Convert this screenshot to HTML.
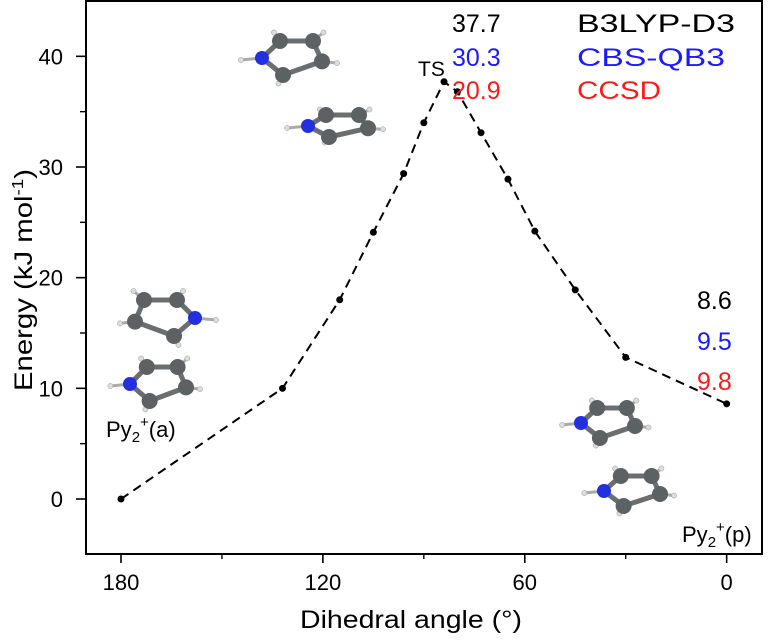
<!DOCTYPE html>
<html><head><meta charset="utf-8"><style>
body{margin:0;background:#fff;}
svg text{font-family:"Liberation Sans",Arial,sans-serif;}
</style></head><body>
<svg id="chart" width="776" height="637" viewBox="0 0 776 637" xmlns="http://www.w3.org/2000/svg">
<g id="mols"></g>
<g id="axes"></g>
<g id="series"></g>
<g id="labels">
<text x="418" y="76" font-size="21">TS</text>
<text x="452" y="32" font-size="25" fill="#000">37.7</text>
<text x="452" y="66" font-size="25" fill="#1a1aff">30.3</text>
<text x="452" y="99" font-size="25" fill="#ff1a1a">20.9</text>
<text x="577" y="32" font-size="25" textLength="158" lengthAdjust="spacingAndGlyphs" fill="#000">B3LYP-D3</text>
<text x="577" y="66" font-size="25" textLength="148" lengthAdjust="spacingAndGlyphs" fill="#1a1aff">CBS-QB3</text>
<text x="577" y="99" font-size="25" textLength="84" lengthAdjust="spacingAndGlyphs" fill="#ff1a1a">CCSD</text>
<text x="697" y="309" font-size="25" fill="#000">8.6</text>
<text x="697" y="350" font-size="25" fill="#1a1aff">9.5</text>
<text x="697" y="390" font-size="25" fill="#ff1a1a">9.8</text>
<text x="106" y="437" font-size="22">Py<tspan font-size="15" dy="5">2</tspan><tspan font-size="15" dy="-15">+</tspan><tspan dy="10">(a)</tspan></text>
<text x="682" y="542" font-size="22">Py<tspan font-size="15" dy="5">2</tspan><tspan font-size="15" dy="-15">+</tspan><tspan dy="10">(p)</tspan></text>
<text x="300" y="628" font-size="25" textLength="222" lengthAdjust="spacingAndGlyphs">Dihedral angle (°)</text>
<text transform="translate(32,391) rotate(-90)" font-size="25" textLength="222" lengthAdjust="spacingAndGlyphs">Energy (kJ mol<tspan font-size="16" dy="-9">-1</tspan><tspan dy="9">)</tspan></text>
</g>
</svg>
<script>
const angles=[180,132,115,105,96,90,84,80,73,65,57,45,30,0];
const energies=[0,10.0,18.0,24.1,29.4,34.0,37.7,36.8,33.1,28.9,24.2,18.9,12.8,8.6];
const xTicks=[180,120,60,0];
const xMinor=[150,90,30];
const yTicks=[0,10,20,30,40];
const yMinor=[5,15,25,35];
const NS='http://www.w3.org/2000/svg';
const L=86,R=762,T=1,B=554;
const X0=190.4,X1=-10.5,Y0=-4.97,Y1=45.0;
function sx(a){return L+(a-X0)/(X1-X0)*(R-L);}
function sy(v){return B-(v-Y0)/(Y1-Y0)*(B-T);}
function mk(tag,attrs,parent){const e=document.createElementNS(NS,tag);for(const k in attrs)e.setAttribute(k,attrs[k]);parent.appendChild(e);return e;}
const axes=document.getElementById('axes');
const frame=mk('rect',{x:L,y:T,width:R-L,height:B-T,fill:'none',stroke:'#000','stroke-width':2},axes);


xTicks.forEach(a=>{
 const t=mk('line',{x1:sx(a),x2:sx(a),y1:B,y2:B+9,stroke:'#000','stroke-width':1.6},axes);
 
 
 const tx=mk('text',{x:sx(a),y:B+36,'font-size':22,'text-anchor':'middle'},axes);tx.textContent=a;
 
 
});
xMinor.forEach(a=>{
 const t=mk('line',{x1:sx(a),x2:sx(a),y1:B,y2:B+5,stroke:'#000','stroke-width':1.4},axes);
 
 
});
yTicks.forEach(v=>{
 const t=mk('line',{x1:L-10,x2:L,y1:sy(v),y2:sy(v),stroke:'#000','stroke-width':1.6},axes);
 
 
 const tx=mk('text',{x:L-23,y:sy(v)+8,'font-size':22,'text-anchor':'end'},axes);tx.textContent=v;
 
 
});
yMinor.forEach(v=>{
 const t=mk('line',{x1:L-6,x2:L,y1:sy(v),y2:sy(v),stroke:'#000','stroke-width':1.4},axes);
 
 
});
const ser=document.getElementById('series');
const pts=angles.map((a,i)=>sx(a)+','+sy(energies[i])).join(' ');
const line=mk('polyline',{points:pts,fill:'none',stroke:'#000','stroke-width':2,'stroke-dasharray':'9,6'},ser);


angles.forEach((a,i)=>{
 const c=mk('circle',{cx:sx(a),cy:sy(energies[i]),r:3.5,fill:'#000'},ser);
 
 
});
const mols=document.getElementById('mols');
function mol(cx,cy,w,h,nLeft,name){
 const g=mk('g',{},mols);
 
 
 const s=nLeft?1:-1;
 const P=[[-0.5*s,0],[-0.2*s,-0.5],[0.35*s,-0.5],[0.5*s,0.1],[-0.15*s,0.5]];
 const at=P.map(p=>[cx+p[0]*w,cy+p[1]*h]);
 const Hs=[[at[0][0]-s*w*0.35,at[0][1]+2]];
 for(let i=1;i<5;i++){Hs.push([at[i][0]+(at[i][0]-cx)*0.5,at[i][1]+(at[i][1]-cy)*0.5]);}
 Hs.forEach((hp,i)=>{mk('line',{x1:at[i][0],y1:at[i][1],x2:hp[0],y2:hp[1],stroke:'#aaa','stroke-width':3},g);});
 for(let i=0;i<5;i++){const a=at[i],b=at[(i+1)%5];mk('line',{x1:a[0],y1:a[1],x2:b[0],y2:b[1],stroke:'#6a6e70','stroke-width':5},g);}
 Hs.forEach(hp=>mk('circle',{cx:hp[0],cy:hp[1],r:2.6,fill:'#ddd',stroke:'#999','stroke-width':0.5},g));
 at.forEach((a,i)=>mk('circle',{cx:a[0],cy:a[1],r:i==0?7:8,fill:i==0?'#2230e0':'#5c6264'},g));
}
mol(292,58,60,34,true,'ts-molecule-top');
mol(338,126,60,22,true,'ts-molecule-bottom');
mol(165,318,60,36,false,'py2a-molecule-top');
mol(158,384,56,34,true,'py2a-molecule-bottom');
mol(608,423,54,30,true,'py2p-molecule-top');
mol(632,491,56,30,true,'py2p-molecule-bottom');
</script>
</body></html>
